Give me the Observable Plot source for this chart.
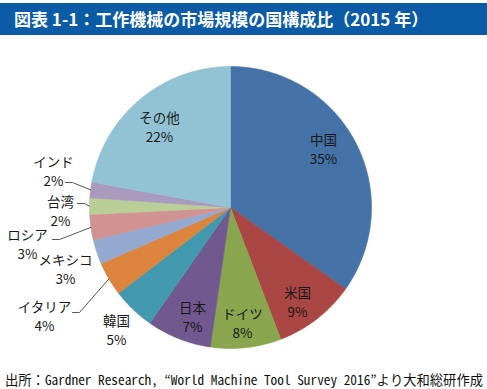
<!DOCTYPE html>
<html>
<head>
<meta charset="utf-8">
<script src="https://cdn.jsdelivr.net/npm/d3@7"></script>
<script src="https://cdn.jsdelivr.net/npm/@observablehq/plot@0.6"></script>
<style>
  html, body { margin: 0; padding: 0; background: #fff; }
  body { width: 487px; height: 389px; overflow: hidden; }
  #title {
    margin-top: 3px; height: 32px; background: #0b5ba7; color: #fff;
    font: bold 17px "Noto Sans CJK JP", sans-serif; line-height: 32px;
    padding-left: 14px; box-sizing: border-box; white-space: nowrap;
  }
  #chart svg { display: block; }
  #caption {
    padding-top: 15px; padding-left: 5px; height: 20px; line-height: 20px;
    font: 13.3px "Noto Sans Mono CJK JP", "Liberation Mono", monospace; color: #111; white-space: nowrap;
  }
</style>
</head>
<body>
<div id="title">図表 1-1：工作機械の市場規模の国構成比（2015 年）</div>
<div id="chart"></div>
<div id="caption">出所：Gardner Research, “World Machine Tool Survey 2016”より大和総研作成</div>
<script>
// ---- data ----
const categories = ["中国", "米国", "ドイツ", "日本", "韓国", "イタリア", "メキシコ", "ロシア", "台湾", "インド", "その他"];
const shares = [34.8, 9.4, 8.1, 7.4, 4.9, 3.9, 2.8, 2.9, 1.9, 1.8, 22.1];
const percentLabels = ["35%", "9%", "8%", "7%", "5%", "4%", "3%", "3%", "2%", "2%", "22%"];
const colors = ["#4572a7", "#aa4643", "#89a54e", "#71588f", "#4198af", "#db843d", "#93a9cf", "#d19392", "#b9cd96", "#a99bbd", "#92c3d4"];

// ---- layout (pixels relative to pie centre) ----
const W = 487, H = 320, CX = 230, CY = 172, R = 141;
const labelOffsets = [[93, -59.5], [67, 94], [12, 115], [-38, 108.5], [-114, 121.5], [-186, 108], [-165, 61], [-203, 36], [-170, 3], [-177, -37.5], [-71, -81.5]];
const leaderStarts = {"イタリア": [-158, 105], "ロシア": [-178, 32], "台湾": [-153, -4], "インド": [-165, -25]};

const arcs = d3.pie().sort(null).value(d => d).startAngle(0).endAngle(2 * Math.PI)(shares);

const wedgePts = [];
arcs.forEach((p, i) => {
  const name = categories[i];
  const n = Math.max(2, Math.ceil((p.endAngle - p.startAngle) / (Math.PI / 360)));
  wedgePts.push({name, x: 0, y: 0});
  for (let k = 0; k <= n; k++) {
    const a = p.startAngle + (p.endAngle - p.startAngle) * k / n;
    wedgePts.push({name, x: R * Math.sin(a), y: -R * Math.cos(a)});
  }
  wedgePts.push({name, x: 0, y: 0});
});

const leaderPts = [];
arcs.forEach((p, i) => {
  const name = categories[i];
  const s = leaderStarts[name];
  if (!s) return;
  const mid = (p.startAngle + p.endAngle) / 2;
  leaderPts.push({name, x: s[0], y: s[1]});
  leaderPts.push({name, x: s[0] + 7, y: s[1]});
  leaderPts.push({name, x: R * Math.sin(mid), y: -R * Math.cos(mid)});
});

const labels = categories.map((c, i) => ({
  name: c,
  text: c + "\n" + percentLabels[i],
  x: labelOffsets[i][0],
  y: labelOffsets[i][1]
}));

const plot = Plot.plot({
  width: W, height: H,
  margin: 0,
  x: {domain: [-CX, W - CX], range: [0, W], axis: null},
  y: {domain: [-CY, H - CY], range: [0, H], axis: null},
  color: {domain: categories, range: colors},
  style: {fontFamily: "'Noto Sans CJK JP', sans-serif", background: "#fff"},
  marks: [
    Plot.line(wedgePts, {x: "x", y: "y", z: "name", fill: "name", stroke: "name", strokeWidth: 0.6, curve: "linear"}),
    Plot.line(leaderPts, {x: "x", y: "y", z: "name", stroke: "#444", strokeWidth: 0.9, curve: "linear"}),
    Plot.text(labels, {x: "x", y: "y", text: "text", fontSize: 13.5, lineHeight: 1.4, fill: "#1a1a1a"})
  ]
});
document.getElementById("chart").appendChild(plot);
</script>
</body>
</html>
